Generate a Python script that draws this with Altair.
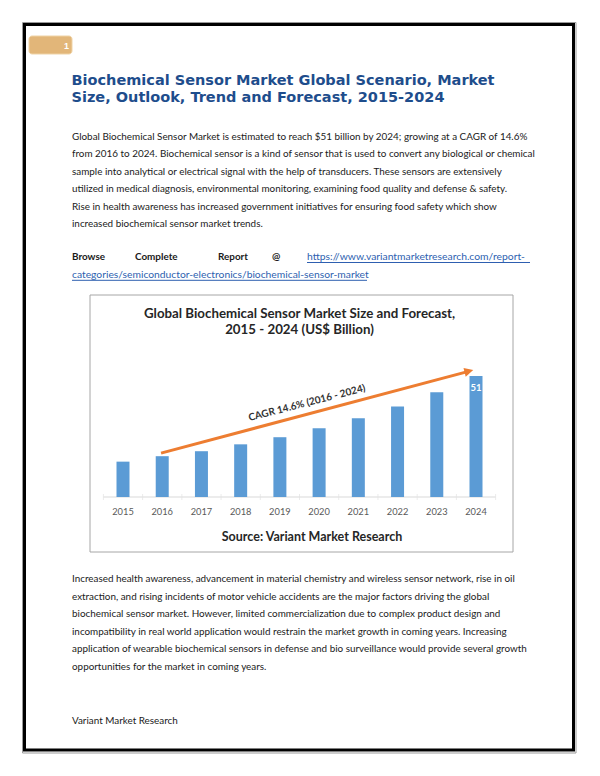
import altair as alt
import pandas as pd

# ---------------- data ----------------
years = [2015, 2016, 2017, 2018, 2019, 2020, 2021, 2022, 2023, 2024]
values = [14.9, 17.2, 19.3, 22.2, 25.2, 29.0, 33.2, 38.1, 44.1, 51.0]
value_labels = ["", "", "", "", "", "", "", "", "", "51"]

# CAGR arrow annotation (data units: year, US$ billion)
arrow_x = [2015.97, 2023.81]
arrow_y = [18.5, 52.97]
arrow_tip = [2023.93, 53.5]
cagr_label = "CAGR 14.6% (2016 - 2024)"
cagr_pos = [2019.69, 39.6]

page_title = [
    "Biochemical Sensor Market Global Scenario, Market",
    "Size, Outlook, Trend and Forecast, 2015-2024",
]
para1 = [
    "Global Biochemical Sensor Market is estimated to reach $51 billion by 2024; growing at a CAGR of 14.6%",
    "from 2016 to 2024. Biochemical sensor is a kind of sensor that is used to convert any biological or chemical",
    "sample into analytical or electrical signal with the help of transducers. These sensors are extensively",
    "utilized in medical diagnosis, environmental monitoring, examining food quality and defense & safety.",
    "Rise in health awareness has increased government initiatives for ensuring food safety which show",
    "increased biochemical sensor market trends.",
]
browse_words = ["Browse", "Complete", "Report", "@"]
link_lines = [
    "https://www.variantmarketresearch.com/report-",
    "categories/semiconductor-electronics/biochemical-sensor-market",
]
para2 = [
    "Increased health awareness, advancement in material chemistry and wireless sensor network, rise in oil",
    "extraction, and rising incidents of motor vehicle accidents are the major factors driving the global",
    "biochemical sensor market. However, limited commercialization due to complex product design and",
    "incompatibility in real world application would restrain the market growth in coming years. Increasing",
    "application of wearable biochemical sensors in defense and bio surveillance would provide several growth",
    "opportunities for the market in coming years.",
]
chart_title = ["Global Biochemical Sensor Market Size and Forecast,", "2015 - 2024 (US$ Billion)"]
source_text = "Source: Variant Market Research"
footer_text = "Variant Market Research"
page_number = "1"

# ---------------- layout helpers ----------------
OFF = 8  # page margin; positions below are page pixels
BODY_FONT = "Lato"
BODY_SIZE = 9.9
one = pd.DataFrame({"k": [0]})


def P(v):
    return v - OFF


def text_layer(s, x, y, size, color="#1a1a1a", weight="normal", font=BODY_FONT,
               align="left", baseline="middle"):
    return alt.Chart(pd.DataFrame({"t": [s]})).mark_text(
        font=font, fontSize=size, color=color, fontWeight=weight,
        align=align, baseline=baseline,
    ).encode(text="t:N", x=alt.value(P(x)), y=alt.value(P(y)))


def rect_layer(x, x2, y, y2, fill=None, stroke=None, sw=1, radius=0):
    kw = dict(strokeWidth=sw, cornerRadius=radius)
    kw["fill"] = fill if fill else "transparent"
    if stroke:
        kw["stroke"] = stroke
    return alt.Chart(one).mark_rect(**kw).encode(
        x=alt.value(P(x)), x2=alt.value(P(x2)), y=alt.value(P(y)), y2=alt.value(P(y2))
    )


def hline(x, x2, y, color, sw=1):
    return alt.Chart(one).mark_rule(color=color, strokeWidth=sw).encode(
        x=alt.value(P(x)), x2=alt.value(P(x2)), y=alt.value(P(y))
    )


layers = []

# page frame
layers.append(rect_layer(22.5, 576, 22.5, 753, stroke="#9a9a9a", sw=1))
layers.append(rect_layer(24.5, 573.5, 24.5, 750, stroke="#000000", sw=3))

# page number badge
layers.append(rect_layer(29, 72, 36, 54, fill="#E2B679", stroke="#EFD3A6", sw=1, radius=3))
layers.append(text_layer(page_number, 69, 45.5, 9, color="white", weight="bold",
                         font="Liberation Sans", align="right"))

# title
for i, s in enumerate(page_title):
    layers.append(text_layer(s, 71.5, 85 + i * 17.3, 14.5, color="#1E4D8C", weight="bold",
                             font="DejaVu Sans", baseline="alphabetic"))

# paragraph 1
for i, s in enumerate(para1):
    layers.append(text_layer(s, 72, 136.7 + i * 17.55, BODY_SIZE))

# browse line
for w, x in zip(browse_words, [72, 135, 218, 272]):
    layers.append(text_layer(w, x, 256.7, BODY_SIZE, weight="bold"))
layers.append(text_layer(link_lines[0], 307, 256.7, 10.35, color="#2E5FB0"))
layers.append(text_layer(link_lines[1], 72, 274.5, 10.3, color="#2E5FB0"))
layers.append(hline(307, 530, 262.5, "#2E5FB0"))
layers.append(hline(72, 367, 280.3, "#2E5FB0"))

# paragraph 2
for i, s in enumerate(para2):
    layers.append(text_layer(s, 72, 579 + i * 17.55, BODY_SIZE))

# footer
layers.append(text_layer(footer_text, 72, 721, BODY_SIZE))

# ---------------- embedded bar chart ----------------
layers.append(rect_layer(90, 513, 295, 552, stroke="#A6A6A6", sw=1))
for i, s in enumerate(chart_title):
    layers.append(text_layer(s, 299.5, 314.3 + i * 16, 13.3, color="#262626", weight="bold",
                             align="center"))
layers.append(text_layer(source_text, 312, 537, 12.5, color="#262626", weight="bold",
                         align="center"))

xs = alt.Scale(domain=[2015, 2024], range=[P(118), P(481)], nice=False, zero=False)
ys = alt.Scale(domain=[0, 51], range=[P(497), P(376)], nice=False, zero=False)

bars_df = pd.DataFrame({"year": years, "value": values, "label": value_labels})

base = alt.Chart(bars_df)
bars = base.mark_bar(size=13, color="#5B9BD5").encode(
    x=alt.X("year:Q", scale=xs, axis=None),
    y=alt.Y("value:Q", scale=ys, axis=None),
)
axis_line = alt.Chart(pd.DataFrame({"a": [years[0]], "b": [years[-1]], "z": [0]})).transform_calculate(
    a0="datum.a - 0.5", b0="datum.b + 0.5"
).mark_rule(color="#D9D9D9", strokeWidth=1).encode(
    x=alt.X("a0:Q", scale=xs, axis=None), x2="b0:Q", y=alt.Y("z:Q", scale=ys, axis=None)
)
ticks_df = pd.DataFrame({"year": years + [years[-1] + 1], "z": [0] * (len(years) + 1)})
ticks = alt.Chart(ticks_df).transform_calculate(bx="datum.year - 0.5").mark_tick(
    orient="vertical", size=6, thickness=1, color="#E3E3E3"
).encode(x=alt.X("bx:Q", scale=xs, axis=None), y=alt.Y("z:Q", scale=ys, axis=None))
xlabels = base.transform_calculate(z="0").mark_text(
    font=BODY_FONT, fontSize=9.3, color="#595959", baseline="middle", dy=15
).encode(
    x=alt.X("year:Q", scale=xs, axis=None), y=alt.Y("z:Q", scale=ys, axis=None), text="year:N"
)
vlabels = base.mark_text(
    font=BODY_FONT, fontSize=9.5, fontWeight="bold", color="white", baseline="middle", dy=12
).encode(
    x=alt.X("year:Q", scale=xs, axis=None), y=alt.Y("value:Q", scale=ys, axis=None), text="label:N"
)
arrow_df = pd.DataFrame({"x": [arrow_x[0]], "x2": [arrow_x[1]], "y": [arrow_y[0]], "y2": [arrow_y[1]]})
arrow = alt.Chart(arrow_df).mark_rule(color="#ED7D31", strokeWidth=3).encode(
    x=alt.X("x:Q", scale=xs, axis=None), x2="x2:Q",
    y=alt.Y("y:Q", scale=ys, axis=None), y2="y2:Q",
)
head = alt.Chart(pd.DataFrame({"x": [arrow_tip[0]], "y": [arrow_tip[1]]})).mark_point(
    shape="M0,0L-2,-1L-2,1Z", size=80, filled=True, color="#ED7D31", opacity=1, angle=345.5
).encode(x=alt.X("x:Q", scale=xs, axis=None), y=alt.Y("y:Q", scale=ys, axis=None))
cagr = alt.Chart(pd.DataFrame({"x": [cagr_pos[0]], "y": [cagr_pos[1]], "t": [cagr_label]})).mark_text(
    font=BODY_FONT, fontSize=10, fontWeight="bold", color="#333333", angle=345.5,
    align="center", baseline="middle"
).encode(x=alt.X("x:Q", scale=xs, axis=None), y=alt.Y("y:Q", scale=ys, axis=None), text="t:N")

layers += [axis_line, ticks, bars, xlabels, vlabels, arrow, head, cagr]

chart = alt.layer(*layers).properties(
    width=584, height=760, padding=0, autosize="none", background="white"
).configure_view(stroke=None)

chart.save("out.html", embed_options={"renderer": "svg", "actions": False})
